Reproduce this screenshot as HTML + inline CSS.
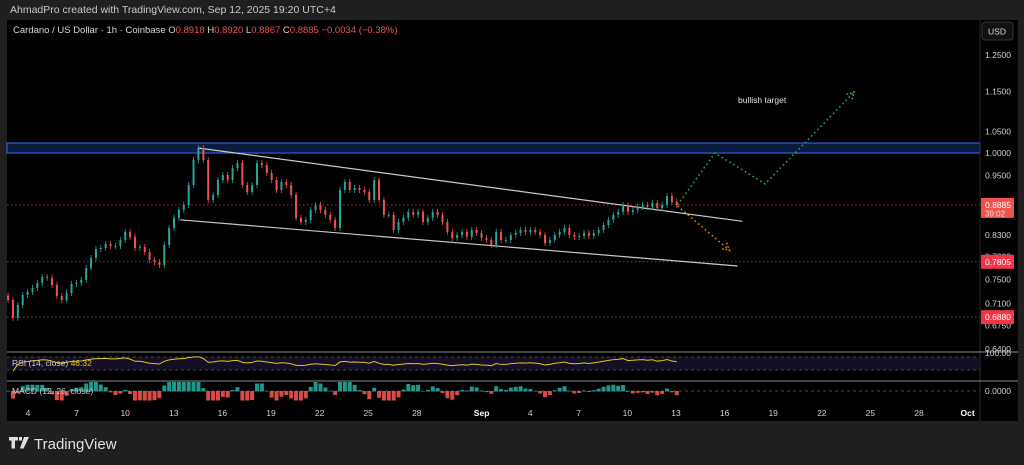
<!DOCTYPE html>
<html><head><meta charset="utf-8"><style>
html,body{margin:0;padding:0;background:#1f1f1f;width:1024px;height:465px;overflow:hidden;font-family:"Liberation Sans",sans-serif}
svg text{font-family:"Liberation Sans",sans-serif}
</style></head><body>
<svg id="c" width="1024" height="465" viewBox="0 0 1024 465">
<rect x="0" y="0" width="1024" height="465" fill="#1f1f1f"/>
<text x="10" y="13" font-size="10.5" fill="#c8c8c8">AhmadPro created with TradingView.com, Sep 12, 2025 19:20 UTC+4</text>
<rect x="7" y="20" width="1011" height="401" fill="#000"/>
<g id="main"></g>
</svg>
<script>
// ---- data ----
const closes=[0.7155,0.6871,0.7074,0.7237,0.7287,0.7354,0.7438,0.7540,0.7523,0.7404,0.7221,0.7155,0.7270,0.7421,0.7438,0.7489,0.7696,0.7873,0.8036,0.8055,0.8129,0.8092,0.8092,0.8203,0.8355,0.8260,0.8055,0.8073,0.7981,0.7837,0.7801,0.7748,0.8110,0.8431,0.8627,0.8785,0.8885,0.9297,0.9842,1.0115,0.9842,0.8986,0.9089,0.9403,0.9511,0.9403,0.9664,0.9775,0.9297,0.9151,0.9297,0.9775,0.9730,0.9555,0.9403,0.9192,0.9361,0.9297,0.9089,0.8627,0.8545,0.8588,0.8785,0.8885,0.8785,0.8686,0.8588,0.8431,0.9192,0.9361,0.9192,0.9234,0.9192,0.9151,0.8986,0.9403,0.8986,0.8686,0.8686,0.8392,0.8545,0.8627,0.8745,0.8686,0.8745,0.8545,0.8627,0.8745,0.8686,0.8545,0.8355,0.8241,0.8298,0.8355,0.8260,0.8392,0.8336,0.8241,0.8203,0.8110,0.8355,0.8203,0.8203,0.8298,0.8336,0.8392,0.8355,0.8392,0.8355,0.8298,0.8147,0.8203,0.8298,0.8355,0.8431,0.8298,0.8260,0.8279,0.8336,0.8279,0.8336,0.8392,0.8488,0.8588,0.8686,0.8745,0.8885,0.8745,0.8785,0.8845,0.8885,0.8845,0.8925,0.8825,0.8885,0.9068,0.8946,0.8885];
const startDay=-1.23;      // days from Aug 4 of first candle
const stepDay=0.3013;      // days per candle
const dayLabels=["4","7","10","13","16","19","22","25","28","Sep","4","7","10","13","16","19","22","25","28","Oct"];
const dayOffsets=[0,3,6,9,12,15,18,21,24,28,31,34,37,40,43,46,49,52,55,58];
const priceTicks=[1.25,1.15,1.05,1.0,0.95,0.83,0.79,0.75,0.71,0.675,0.64];
const levels=[0.8885,0.7805,0.688];
const zone=[1.0,1.023];
const upperChannel=[[10.5,1.0115],[44.1,0.8559]];
const lowerChannel=[[9.4,0.8588],[43.8,0.7730]];
const bullPath=[[40.1,0.8885],[42.4,1.0000],[45.5,0.9320],[51.0,1.1490]];
const bearPath=[[40.1,0.8865],[43.3,0.8010]];

// ---- axes ----
const X=d=>28+d*16.2;
const Y=p=>153-439*Math.log(p);
const svg=document.getElementById('main');
const NS='http://www.w3.org/2000/svg';
function el(tag,attrs,parent){const e=document.createElementNS(NS,tag);for(const k in attrs)e.setAttribute(k,attrs[k]);(parent||svg).appendChild(e);return e;}

let z=el('rect',{x:7,y:Y(zone[1]),width:973,height:Y(zone[0])-Y(zone[1]),fill:'#0b1a3f',stroke:'#2b5fd8','stroke-width':1.2});


levels.forEach(l=>{const e=el('line',{x1:7,x2:980,y1:Y(l),y2:Y(l),stroke:'#b22a2a','stroke-width':1,'stroke-dasharray':'1.5 2.5'});

});
[upperChannel,lowerChannel].forEach((c,i)=>{const e=el('line',{x1:X(c[0][0]),y1:Y(c[0][1]),x2:X(c[1][0]),y2:Y(c[1][1]),stroke:'#c9c9c9','stroke-width':1.2});

});
let prev=closes[0]*1.01;
closes.forEach((c,i)=>{const o=prev;const x=X(startDay+i*stepDay);const hi=Math.max(o,c)*1.007,lo=Math.min(o,c)*0.993;const col=c>=o?'#26a69a':'#ef5350';
const w=el('line',{x1:x,x2:x,y1:Y(hi),y2:Y(lo),stroke:col,'stroke-width':0.8});


const b=el('rect',{x:x-1,y:Y(Math.max(o,c)),width:2,height:Math.max(1,Math.abs(Y(o)-Y(c))),fill:col});


prev=c;});
function path(pts,col,name){const e=el('polyline',{points:pts.map(p=>X(p[0])+','+Y(p[1])).join(' '),fill:'none',stroke:col,'stroke-width':1.6,'stroke-dasharray':'1.5 3'});


const a=pts[pts.length-1],b=pts[pts.length-2];const ax=X(a[0]),ay=Y(a[1]),ang=Math.atan2(Y(b[1])-ay,X(b[0])-ax);
const h=el('polyline',{points:(ax+8*Math.cos(ang+0.5))+','+(ay+8*Math.sin(ang+0.5))+' '+ax+','+ay+' '+(ax+8*Math.cos(ang-0.5))+','+(ay+8*Math.sin(ang-0.5)),fill:'none',stroke:col,'stroke-width':1.6,'stroke-dasharray':'1.5 2'});

}
path(bullPath,'#2fa84f','bullish-projection');
path(bearPath,'#e08a10','bearish-projection');
let t=el('text',{x:738,y:103,'font-size':8.5,fill:'#e0e0e0'});t.textContent='bullish target';



let lg=el('text',{x:13,y:33,'font-size':9.5,fill:'#d8d8d8'});
lg.innerHTML='Cardano / US Dollar · 1h · Coinbase  O<tspan fill="#ef5350">0.8918</tspan>  H<tspan fill="#ef5350">0.8920</tspan>  L<tspan fill="#ef5350">0.8867</tspan>  C<tspan fill="#ef5350">0.8885  −0.0034 (−0.38%)</tspan>';



let sep=el('line',{x1:980,x2:980,y1:20,y2:421,stroke:'#2a2a2a'});


let usd=el('rect',{x:982,y:22,width:31,height:18,rx:3,fill:'#111',stroke:'#333'});


let ut=el('text',{x:997,y:34.5,'font-size':8.5,fill:'#ddd','text-anchor':'middle'});ut.textContent='USD';


priceTicks.forEach(p=>{const e=el('text',{x:985,y:Y(p)+3,'font-size':8.5,fill:'#d0d0d0'});e.textContent=p.toFixed(4);

});
const levelCols=['#ef5350','#f23645','#f23645'];
levels.forEach((l,i)=>{const h=i==0?20:14;const y0=Y(l)-7;const r=el('rect',{x:981,y:y0,width:33,height:h,fill:levelCols[i]});


const tx=el('text',{x:985,y:y0+10,'font-size':8.5,fill:'#fff'});tx.textContent=l.toFixed(4);


if(i==0){const t2=el('text',{x:985,y:y0+18.5,'font-size':8,fill:'#fdd'});t2.textContent='39:02';

}});

[352,381].forEach(y=>{const e=el('line',{x1:7,x2:1018,y1:y,y2:y,stroke:'#8a8a8a','stroke-width':1});

});
let band=el('rect',{x:7,y:357,width:973,height:13,fill:'#130f24'});


[357,370,391].forEach(y=>{const e=el('line',{x1:7,x2:980,y1:y,y2:y,stroke:'#444','stroke-dasharray':'3 3'});

});
const RY=v=>363-(v-50)*0.16;
let rsi=[],ag=0,al=0;
for(let i=1;i<closes.length;i++){const d=closes[i]-closes[i-1];const g=Math.max(d,0),l=Math.max(-d,0);
if(i<=10){ag+=g/10;al+=l/10;}else{ag=(ag*9+g)/10;al=(al*9+l)/10;}rsi.push([i,al==0?70:100-100/(1+ag/al)]);}
let rl=el('polyline',{points:rsi.map(r=>X(startDay+r[0]*stepDay)+','+RY(r[1])).join(' '),fill:'none',stroke:'#e6c619','stroke-width':1});


let rt=el('text',{x:12,y:366,'font-size':8.5,fill:'#ccc'});rt.innerHTML='RSI (14, close) <tspan fill="#e6c619">46.32</tspan>';


let rv=el('text',{x:985,y:356,'font-size':8.5,fill:'#d0d0d0'});rv.textContent='100.00';


let e12=closes[0],e26=closes[0],sig=0;
closes.forEach((c,i)=>{e12+=(c-e12)*2/5;e26+=(c-e26)*2/10;const m=e12-e26;sig+=(m-sig)*2/4;const hv=m-sig;
const x=X(startDay+i*stepDay);const hgt=Math.max(-9,Math.min(9,hv*2500));
const b=el('rect',{x:x-2,y:hgt>0?391-hgt:391,width:4,height:Math.abs(hgt)+0.5,fill:hv>=0?'#26a69a':'#ef5350',opacity:0.9});

});
let mt=el('text',{x:12,y:394,'font-size':8.5,fill:'#ccc'});mt.textContent='MACD (12, 26, close)';


let mv=el('text',{x:985,y:394,'font-size':8.5,fill:'#d0d0d0'});mv.textContent='0.0000';



dayLabels.forEach((lab,i)=>{const e=el('text',{x:X(dayOffsets[i]),y:416,'font-size':8.5,fill:lab=='Sep'||lab=='Oct'?'#fff':'#d0d0d0','text-anchor':'middle','font-weight':lab=='Sep'||lab=='Oct'?'bold':'normal'});e.textContent=lab;

});

let lgG=el('g',{});


el('path',{d:'M9 437h9v3.5h-3v8h-3.5v-8H9z M19 437h3v3.5h-3z M24 437h5l-5.5 11.5h-3.5z',fill:'#e0e0e0'},lgG);
let ft=el('text',{x:34,y:449,'font-size':15,fill:'#e0e0e0'},lgG);ft.textContent='TradingView';
</script>
</body></html>
